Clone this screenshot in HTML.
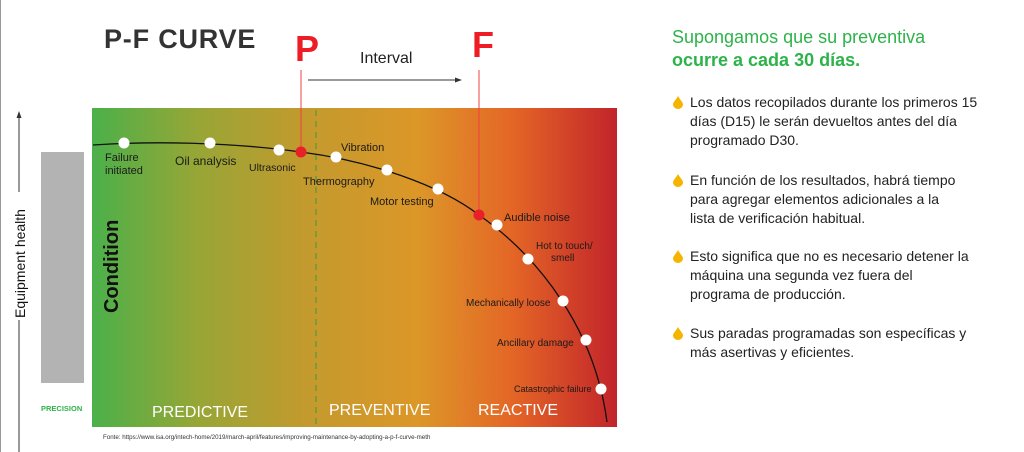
<!DOCTYPE html>
<html><head><meta charset="utf-8"><style>
html,body{margin:0;padding:0;background:#fff;width:1024px;height:452px;overflow:hidden;font-family:"Liberation Sans",sans-serif}
.b{position:absolute;left:690px;white-space:nowrap;font-size:14px;line-height:19px;color:#222}
.drop{position:absolute;left:673px;width:10px;height:13px}
</style></head><body>
<div style="position:absolute;left:0;top:0;width:1px;height:452px;background:#999"></div>
<svg width="1024" height="452" style="position:absolute;left:0;top:0">
<defs>
<linearGradient id="g" x1="92" y1="0" x2="617" y2="0" gradientUnits="userSpaceOnUse">
<stop offset="0" stop-color="#4bb04a"/>
<stop offset="0.2" stop-color="#97a636"/>
<stop offset="0.4" stop-color="#c29a2e"/>
<stop offset="0.62" stop-color="#dc9728"/>
<stop offset="0.8" stop-color="#e46626"/>
<stop offset="1" stop-color="#c2242a"/>
</linearGradient>
</defs>
<rect x="92" y="108" width="525" height="319" fill="url(#g)"/>
<rect x="41" y="152" width="43" height="231" fill="#b3b3b3"/>
<line x1="19" y1="115" x2="19" y2="452" stroke="#333" stroke-width="1"/>
<polygon points="19,111 16.5,118 21.5,118" fill="#333"/>
<rect x="10" y="192" width="18" height="128" fill="#fff"/>
<text transform="translate(25,318) rotate(-90)" font-size="14" fill="#111">Equipment health</text>
<text transform="translate(118,313) rotate(-90)" font-size="20" font-weight="bold" fill="#111">Condition</text>
<text x="41" y="411" font-size="7.5" font-weight="bold" fill="#2db34a">PRECISION</text>
<line x1="316" y1="110" x2="316" y2="427" stroke="#3a9a40" stroke-dasharray="6,5"/>
<line x1="464" y1="110" x2="464" y2="427" stroke="#f5703a" stroke-width="1.3" stroke-dasharray="6,5"/>
<line x1="301" y1="70" x2="301" y2="152" stroke="#f04040" stroke-width="1"/>
<line x1="479" y1="70" x2="479" y2="215" stroke="#f04040" stroke-width="1"/>
<line x1="308" y1="80" x2="458" y2="80" stroke="#333"/>
<polygon points="462,80 455,77.5 455,82.5" fill="#333"/>
<path d="M93,145 C150,141 230,142 301,152 C370,161 440,185 479,215 C540,258 595,330 607,422" fill="none" stroke="#111" stroke-width="1.3"/>
<g fill="#fff">
<circle cx="124" cy="143" r="5.5"/><circle cx="210" cy="143" r="5.5"/><circle cx="279" cy="150" r="5.5"/>
<circle cx="336" cy="157" r="5.5"/><circle cx="387" cy="170" r="5.5"/><circle cx="438" cy="189" r="5.5"/>
<circle cx="497" cy="225" r="5.5"/><circle cx="528" cy="259" r="5.5"/><circle cx="563" cy="301" r="5.5"/>
<circle cx="586" cy="340" r="5.5"/><circle cx="601" cy="389" r="5.5"/>
</g>
<circle cx="301" cy="152" r="5.5" fill="#e8202a"/><circle cx="479" cy="215" r="5.5" fill="#e8202a"/>
<g font-size="11" fill="#1a1a1a">
<text x="105" y="161">Failure</text><text x="105" y="174">initiated</text>
<text x="175" y="165" font-size="12">Oil analysis</text>
<text x="249" y="171" font-size="10.5">Ultrasonic</text>
<text x="341" y="151">Vibration</text>
<text x="303" y="185">Thermography</text>
<text x="370" y="205">Motor testing</text>
<text x="504" y="221">Audible noise</text>
<text x="536" y="249" font-size="10">Hot to touch/</text><text x="551" y="261" font-size="10">smell</text>
<text x="466" y="306" font-size="10">Mechanically loose</text>
<text x="497" y="346" font-size="10">Ancillary damage</text>
<text x="514" y="392" font-size="9">Catastrophic failure</text>
</g>
<g font-size="16" fill="#fff">
<text x="152" y="417">PREDICTIVE</text><text x="329" y="415">PREVENTIVE</text><text x="478" y="415">REACTIVE</text>
</g>
<text x="103" y="439" font-size="6.2" fill="#333">Fonte: https://www.isa.org/intech-home/2019/march-april/features/improving-maintenance-by-adopting-a-p-f-curve-meth</text>
<text x="104" y="48" font-size="27" font-weight="bold" fill="#333" letter-spacing="0.8">P-F CURVE</text>
<text x="295" y="61" font-size="36" font-weight="bold" fill="#ee1c25">P</text>
<text x="472" y="57" font-size="36" font-weight="bold" fill="#ee1c25">F</text>
<text x="360" y="63" font-size="16" fill="#222">Interval</text>
</svg>
<div style="position:absolute;left:672px;top:26px;font-size:18px;line-height:23px;color:#2db34a">Supongamos que su preventiva<br><b>ocurre a cada 30 días.</b></div>
<svg class="drop" style="top:96px" viewBox="0 0 10 13"><path d="M5,0 C3,4 0,6 0,8.5 A5,4.5 0 0 0 10,8.5 C10,6 7,4 5,0Z" fill="#f5b400"/></svg>
<div class="b" style="top:93px">Los datos recopilados durante los primeros 15<br>días (D15) le serán devueltos antes del día<br>programado D30.</div>
<svg class="drop" style="top:174px" viewBox="0 0 10 13"><path d="M5,0 C3,4 0,6 0,8.5 A5,4.5 0 0 0 10,8.5 C10,6 7,4 5,0Z" fill="#f5b400"/></svg>
<div class="b" style="top:171px">En función de los resultados, habrá tiempo<br>para agregar elementos adicionales a la<br>lista de verificación habitual.</div>
<svg class="drop" style="top:250px" viewBox="0 0 10 13"><path d="M5,0 C3,4 0,6 0,8.5 A5,4.5 0 0 0 10,8.5 C10,6 7,4 5,0Z" fill="#f5b400"/></svg>
<div class="b" style="top:247px">Esto significa que no es necesario detener la<br>máquina una segunda vez fuera del<br>programa de producción.</div>
<svg class="drop" style="top:327px" viewBox="0 0 10 13"><path d="M5,0 C3,4 0,6 0,8.5 A5,4.5 0 0 0 10,8.5 C10,6 7,4 5,0Z" fill="#f5b400"/></svg>
<div class="b" style="top:324px">Sus paradas programadas son específicas y<br>más asertivas y eficientes.</div>
</body></html>
